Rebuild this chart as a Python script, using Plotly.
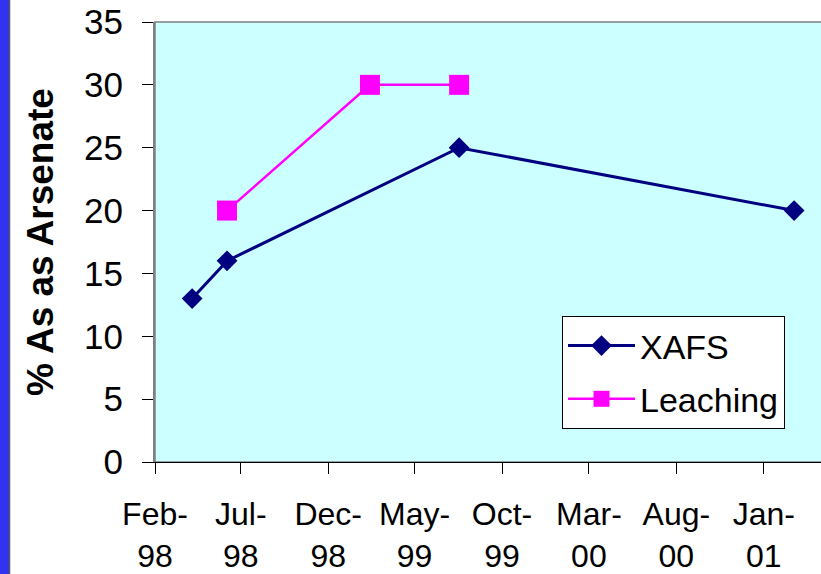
import plotly.graph_objects as go

# Sampling dates and % arsenate measured by each method
xafs_dates = ["1998-04-07", "1998-06-07", "1999-07-18", "2001-02-23"]
xafs_values = [13, 16, 25, 20]

leach_dates = ["1998-06-07", "1999-02-12", "1999-07-18"]
leach_values = [20, 30, 30]

# Axis ticks
x_tick_dates = ["1998-02-01", "1998-07-01", "1998-12-01", "1999-05-01",
                "1999-10-01", "2000-03-01", "2000-08-01", "2001-01-01"]
x_tick_labels = ["Feb-<br>98", "Jul-<br>98", "Dec-<br>98", "May-<br>99",
                 "Oct-<br>99", "Mar-<br>00", "Aug-<br>00", "Jan-<br>01"]
y_ticks = [0, 5, 10, 15, 20, 25, 30, 35]

W, H = 821, 574
ML, MR, MT, MB = 155, 0, 22, 112
PW, PH = W - ML - MR, H - MT - MB

fig = go.Figure()
fig.add_trace(go.Scatter(
    x=xafs_dates, y=xafs_values, name="XAFS", mode="lines+markers",
    line=dict(color="#000080", width=3),
    marker=dict(symbol="diamond", size=16, color="#000080"),
    legendgroup="a",
))
fig.add_trace(go.Scatter(
    x=leach_dates, y=leach_values, name="Leaching", mode="lines+markers",
    line=dict(color="#FF00FF", width=2.5),
    marker=dict(symbol="square", size=20, color="#FF00FF"),
    legendgroup="b",
))

font = "Liberation Sans, Arial, sans-serif"

fig.update_layout(
    width=W, height=H,
    margin=dict(l=ML, r=MR, t=MT, b=MB, autoexpand=False),
    paper_bgcolor="white",
    plot_bgcolor="#CCFFFF",
    font=dict(family=font, size=32, color="black"),
    showlegend=True,
    legend=dict(
        x=(562 - ML) / PW, y=(H - MB - 316) / PH,
        xanchor="left", yanchor="top",
        bgcolor="white", bordercolor="black", borderwidth=1,
        font=dict(size=34, family=font),
        tracegroupgap=6,
        itemwidth=67,
    ),
    xaxis=dict(
        type="date",
        range=["1998-02-01", "2001-04-11"],
        tickvals=x_tick_dates, ticktext=x_tick_labels,
        ticks="outside", ticklen=11, tickcolor="black", tickwidth=1,
        showgrid=False, zeroline=False,
        showline=True, linecolor="black", linewidth=1,
        tickfont=dict(size=32),
        ticklabelstandoff=13,
    ),
    yaxis=dict(
        range=[0, 35],
        tickvals=y_ticks,
        ticks="outside", ticklen=11, tickcolor="black", tickwidth=1,
        showgrid=False, zeroline=False,
        showline=True, linecolor="#808080", linewidth=2,
        tickfont=dict(size=35),
        ticklabelstandoff=12,
        title=dict(text="<b>% As as Arsenate</b>", font=dict(size=37), standoff=19),
    ),
    shapes=[
        # plot-area border
        dict(type="rect", xref="paper", yref="paper", x0=0, x1=1.01, y0=0, y1=1,
             line=dict(color="#808080", width=1.5), fillcolor="rgba(0,0,0,0)", layer="below"),
        # blue strip on the left edge of the page
        dict(type="rect", xref="paper", yref="paper",
             x0=-ML / PW, x1=(9 - ML) / PW, y0=-MB / PH, y1=1 + MT / PH,
             line=dict(width=0), fillcolor="#3232F0"),
        dict(type="line", xref="paper", yref="paper",
             x0=(9.5 - ML) / PW, x1=(9.5 - ML) / PW, y0=-MB / PH, y1=1 + MT / PH,
             line=dict(color="#555566", width=1.5)),
    ],
)

fig.write_html("out.html")
